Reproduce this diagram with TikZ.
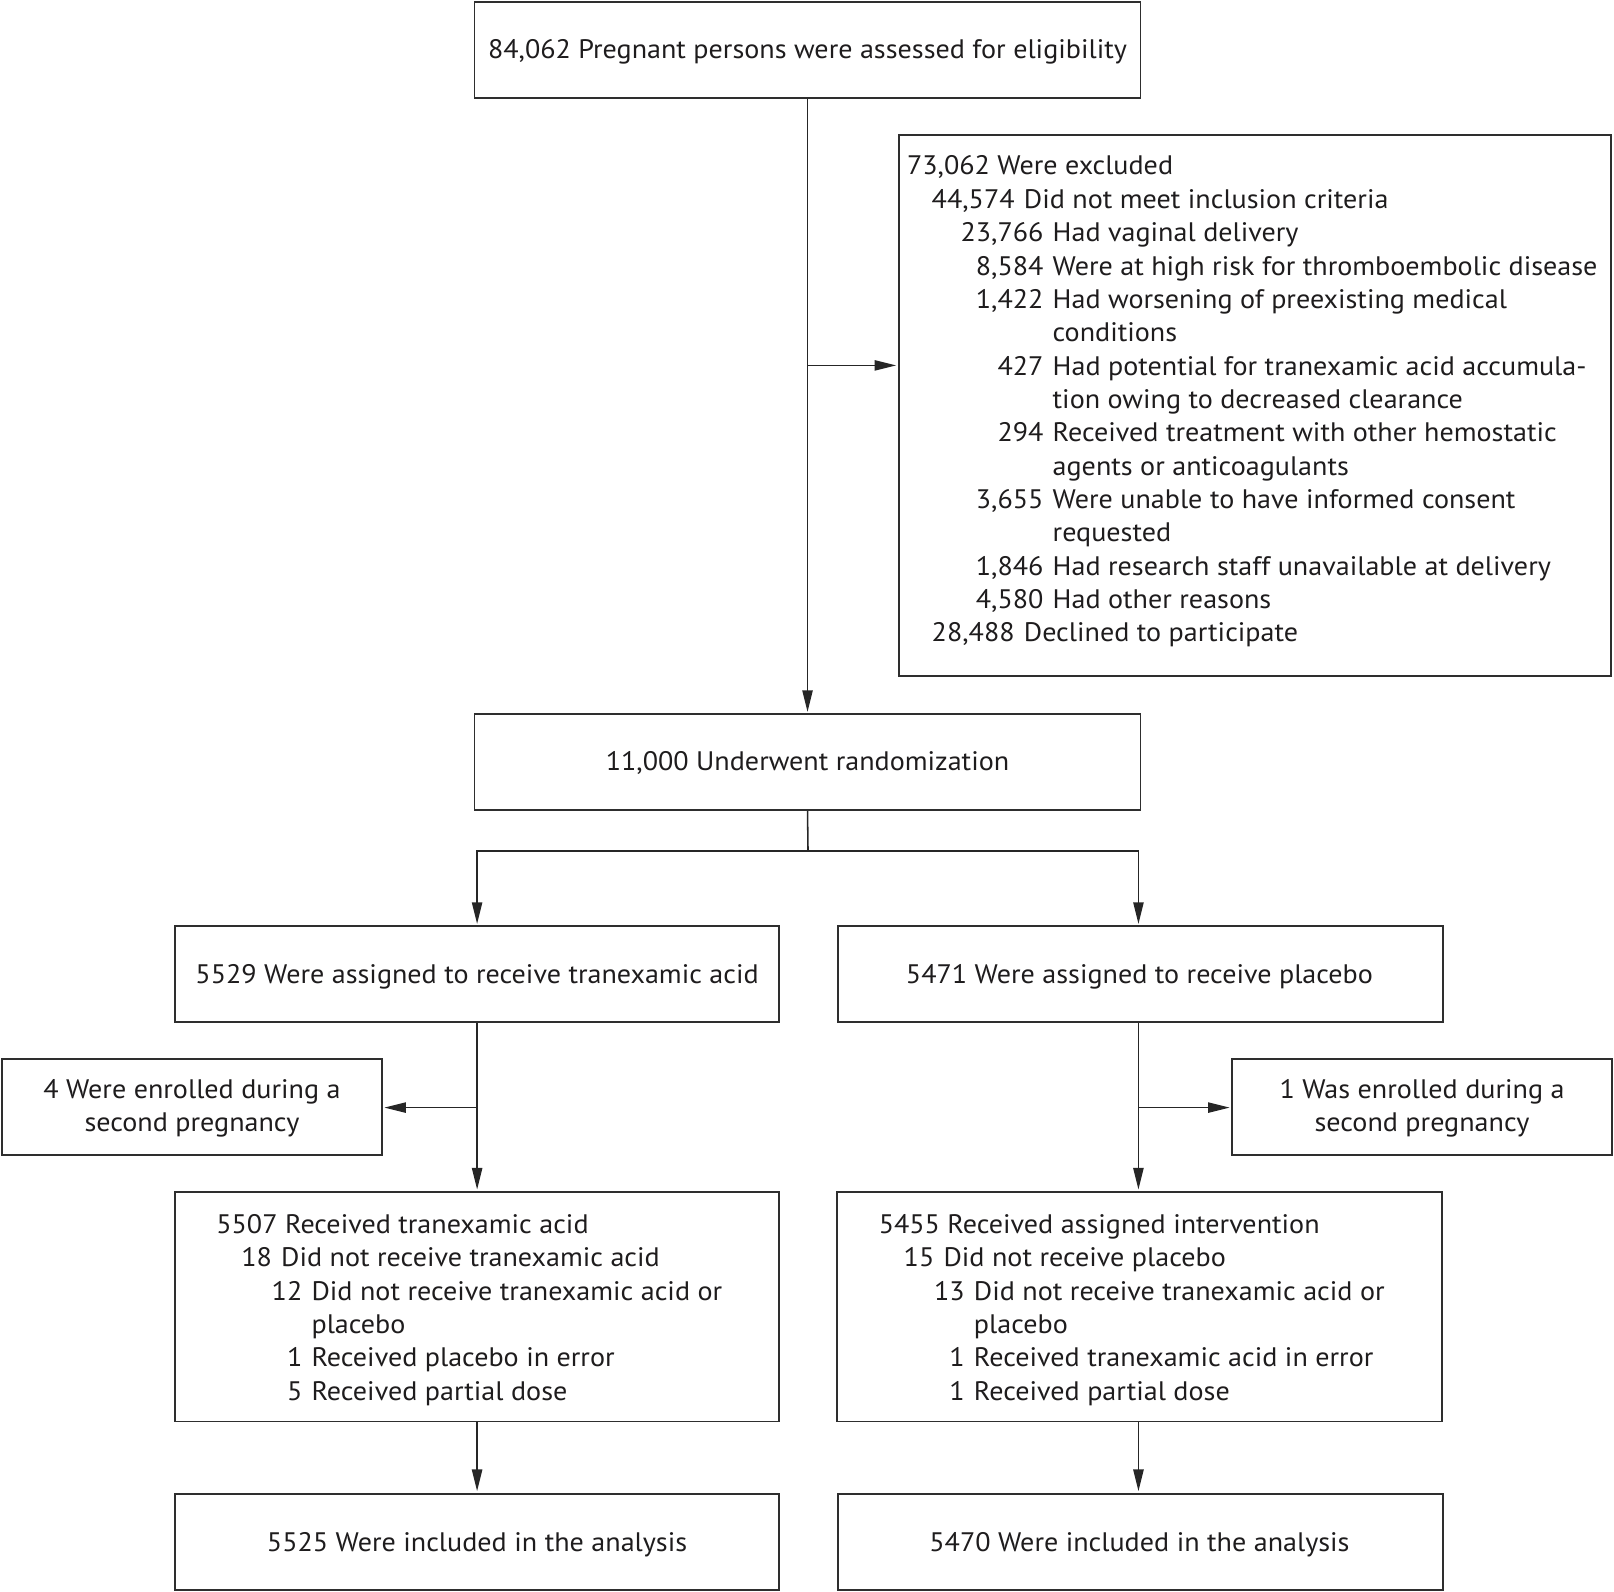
\documentclass[tikz,border=0pt]{standalone}
\usepackage{fontspec}
\setmainfont{PT Sans}[FakeStretch=1.05]
\usetikzlibrary{arrows.meta}
\definecolor{boxc}{HTML}{2E2E2E}
\definecolor{linec}{HTML}{262626}
\definecolor{txtc}{HTML}{1E1C1D}
\newcommand{\bodyfont}{\fontsize{26}{32.4}\selectfont}
\newcommand{\nm}[1]{\llap{#1\hspace{9pt}}}
\begin{document}
\begin{tikzpicture}[x=1pt,y=-1pt,
  box/.style={draw=boxc, line width=1.8pt, inner sep=0pt},
  conn/.style={draw=linec, line width=1.5pt},
  arr/.style={conn, -{Triangle[length=21pt,width=10pt]}, shorten >=1.5pt},
  ltxt/.style={inner sep=0pt, anchor=base west, font=\bodyfont, text=txtc},
  ctxt/.style={inner sep=0pt, anchor=base, font=\bodyfont, text=txtc, align=center}]
\useasboundingbox (0,0) rectangle (1568,1546.6);

% ---------- boxes ----------
\node[box, minimum width=647pt, minimum height=93pt] (top) at (784.5,48.5) {};
\node[box, minimum width=692pt, minimum height=526pt] (excl) at (1219,394) {};
\node[box, minimum width=647pt, minimum height=93pt] (rand) at (784.5,740.5) {};
\node[box, minimum width=587pt, minimum height=93pt] (armL) at (463.5,946.5) {};
\node[box, minimum width=587pt, minimum height=93pt] (armR) at (1108,946.5) {};
\node[box, minimum width=369pt, minimum height=93pt] (enrL) at (186.5,1075.5) {};
\node[box, minimum width=369pt, minimum height=93pt] (enrR) at (1381.5,1075.5) {};
\node[box, minimum width=587pt, minimum height=223pt] (recL) at (463.5,1269.5) {};
\node[box, minimum width=587pt, minimum height=223pt] (recR) at (1107,1269.5) {};
\node[box, minimum width=587pt, minimum height=94pt] (anaL) at (463.5,1498) {};
\node[box, minimum width=587pt, minimum height=94pt] (anaR) at (1108,1498) {};

% ---------- single-line texts ----------
\node[ctxt] (toptxt) at (784.5,57) {84,062 Pregnant persons were assessed for eligibility};
\node[ctxt] (randtxt) at (784.5,749) {11,000 Underwent randomization};
\node[ctxt] (armLtxt) at (463.5,955) {5529 Were assigned to receive tranexamic acid};
\node[ctxt] (armRtxt) at (1107,955) {5471 Were assigned to receive placebo};
\node[ctxt] (anaLtxt) at (463.5,1507) {5525 Were included in the analysis};
\node[ctxt] (anaRtxt) at (1107,1507) {5470 Were included in the analysis};
\node[ctxt] (enrLa) at (186.5,1067) {4 Were enrolled during a};
\node[ctxt] (enrLb) at (186.5,1099) {second pregnancy};
\node[ctxt] (enrRa) at (1381.5,1067) {1 Was enrolled during a};
\node[ctxt] (enrRb) at (1381.5,1099) {second pregnancy};

% ---------- excluded list ----------
\node[ltxt] (ex0)  at (881,170)    {73,062 Were excluded};
\node[ltxt] (ex1)  at (994.5,202.4) {\nm{44,574}Did not meet inclusion criteria};
\node[ltxt] (ex2)  at (1022.5,234.8) {\nm{23,766}Had vaginal delivery};
\node[ltxt] (ex3)  at (1022.5,267.2) {\nm{8,584}Were at high risk for thromboembolic disease};
\node[ltxt] (ex4)  at (1022.5,299.6) {\nm{1,422}Had worsening of preexisting medical};
\node[ltxt] (ex5)  at (1022.5,332)   {conditions};
\node[ltxt] (ex6)  at (1022.5,364.4) {\nm{427}Had potential for tranexamic acid accumula-};
\node[ltxt] (ex7)  at (1022.5,396.8) {tion owing to decreased clearance};
\node[ltxt] (ex8)  at (1022.5,429.2) {\nm{294}Received treatment with other hemostatic};
\node[ltxt] (ex9)  at (1022.5,461.6) {agents or anticoagulants};
\node[ltxt] (ex10) at (1022.5,494)   {\nm{3,655}Were unable to have informed consent};
\node[ltxt] (ex11) at (1022.5,526.4) {requested};
\node[ltxt] (ex12) at (1022.5,558.8) {\nm{1,846}Had research staff unavailable at delivery};
\node[ltxt] (ex13) at (1022.5,591.2) {\nm{4,580}Had other reasons};
\node[ltxt] (ex14) at (994.5,623.6)  {\nm{28,488}Declined to participate};

% ---------- received lists ----------
\node[ltxt] (rl0) at (210,1198)   {5507 Received tranexamic acid};
\node[ltxt] (rl1) at (273,1230.5) {\nm{18}Did not receive tranexamic acid};
\node[ltxt] (rl2) at (302.5,1263) {\nm{12}Did not receive tranexamic acid or};
\node[ltxt] (rl3) at (302.5,1295.5) {placebo};
\node[ltxt] (rl4) at (302.5,1328) {\nm{1}Received placebo in error};
\node[ltxt] (rl5) at (302.5,1360.5) {\nm{5}Received partial dose};

\node[ltxt] (rr0) at (853.5,1198)   {5455 Received assigned intervention};
\node[ltxt] (rr1) at (916.5,1230.5) {\nm{15}Did not receive placebo};
\node[ltxt] (rr2) at (946,1263) {\nm{13}Did not receive tranexamic acid or};
\node[ltxt] (rr3) at (946,1295.5) {placebo};
\node[ltxt] (rr4) at (946,1328) {\nm{1}Received tranexamic acid in error};
\node[ltxt] (rr5) at (946,1360.5) {\nm{1}Received partial dose};

% ---------- connectors ----------
\coordinate (jx) at (785,355);
\draw[arr] (top.south) -- (rand.north);
\draw[arr] (jx) -- (jx -| excl.west);

\coordinate (sp) at (785,827);
\coordinate (spL) at (463.5,827);
\coordinate (spR) at (1106,827);
\draw[conn] (rand.south) -- (sp);
\draw[arr] (sp) -- (spL) -- (spL |- armL.north);
\draw[arr] (sp) -- (spR) -- (spR |- armR.north);

\coordinate (jl) at (463.5,1076);
\coordinate (jr) at (1106,1076);
\draw[arr] (armL.south) -- (recL.north);
\draw[arr] (jl) -- (jl -| enrL.east);
\draw[arr] (jr |- armR.south) -- (jr |- recR.north);
\draw[arr] (jr) -- (jr -| enrR.west);

\draw[arr] (recL.south) -- (anaL.north);
\draw[arr] (jr |- recR.south) -- (jr |- anaR.north);
\end{tikzpicture}
\end{document}
